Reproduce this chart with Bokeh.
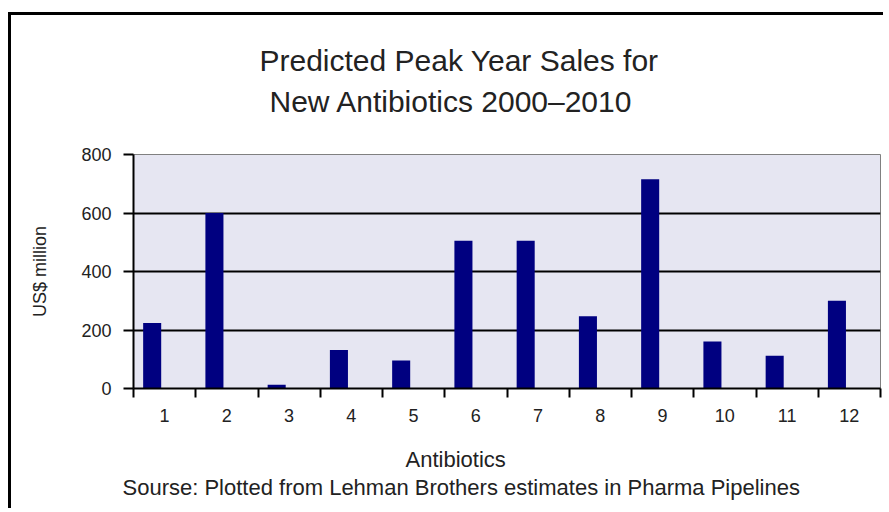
from bokeh.plotting import figure
from bokeh.models import ColumnDataSource, FixedTicker, Range1d, Title
from bokeh.transform import dodge
from bokeh.embed import file_html
from bokeh.resources import INLINE

# ---- data ----
antibiotics = [1, 2, 3, 4, 5, 6, 7, 8, 9, 10, 11, 12]
sales = [224, 600, 13, 132, 96, 505, 505, 247, 715, 161, 112, 300]
y_ticks = [0, 200, 400, 600, 800]
title_lines = ["Predicted Peak Year Sales for", "New Antibiotics 2000\u20132010"]
x_title = "Antibiotics"
y_title = "US$ million"
source_note = "Sourse: Plotted from Lehman Brothers estimates in Pharma Pipelines"

FONT = "Liberation Sans"
TXT = "#222222"

# ---- layout (canvas pixels) ----
W, H = 875, 496
FL, FT, FR, FB = 122, 139, 869, 373       # frame edges in canvas px

src = ColumnDataSource(dict(idx=antibiotics, sales=sales))

p = figure(width=W, height=H, output_backend="svg", toolbar_location=None,
           x_range=Range1d(0.5, 12.5), y_range=Range1d(0, 800),
           min_border_left=FL, min_border_top=FT, min_border_right=W - FR,
           min_border_bottom=H - FB)
p.styles = {"margin-left": "8px", "margin-top": "12px",
            "border-left": "3px solid black", "border-top": "3px solid black"}
p.background_fill_color = "#E6E6F2"
p.border_fill_color = "white"
p.outline_line_color = "#808080"
p.outline_line_width = 1

p.vbar(x=dodge("idx", -0.2, range=p.x_range), top="sales", width=0.29,
       bottom=0, source=src, fill_color="#000080", line_color=None)

# x axis: labels at category centres, ticks at category boundaries
p.xaxis.ticker = FixedTicker(ticks=antibiotics,
                             minor_ticks=[i + 0.5 for i in range(0, 13)])
p.xaxis.major_tick_line_color = None
p.xaxis.major_tick_out = 9
p.xaxis.major_tick_in = 0
p.xaxis.minor_tick_line_color = "black"
p.xaxis.minor_tick_line_width = 2
p.xaxis.minor_tick_out = 9
p.xaxis.minor_tick_in = 0
p.xaxis.axis_line_color = "black"
p.xaxis.axis_line_width = 2
p.xaxis.major_label_standoff = 11
p.xaxis.major_label_text_font = FONT
p.xaxis.major_label_text_font_size = "18px"
p.xaxis.major_label_text_color = TXT

p.yaxis.ticker = FixedTicker(ticks=y_ticks)
p.yaxis.minor_tick_line_color = None
p.yaxis.major_tick_line_color = "black"
p.yaxis.major_tick_line_width = 2
p.yaxis.major_tick_out = 10
p.yaxis.major_tick_in = 0
p.yaxis.axis_line_color = "black"
p.yaxis.axis_line_width = 2
p.yaxis.major_label_standoff = 12
p.yaxis.major_label_text_font = FONT
p.yaxis.major_label_text_font_size = "18px"
p.yaxis.major_label_text_color = TXT
p.yaxis.axis_label = y_title
p.yaxis.axis_label_text_font = FONT
p.yaxis.axis_label_text_font_size = "18px"
p.yaxis.axis_label_text_font_style = "normal"
p.yaxis.axis_label_text_color = TXT
p.yaxis.axis_label_standoff = 28

p.xgrid.grid_line_color = None
p.ygrid.grid_line_color = "black"
p.ygrid.grid_line_width = 2

def title(txt, size, offset, standoff):
    return Title(text=txt, align="left", offset=offset, standoff=standoff,
                 text_font=FONT, text_font_size=size,
                 text_font_style="normal", text_color=TXT)

def spacer(gap):
    return Title(text=" ", standoff=gap, text_font_size="1px",
                 text_color="white")

# above: nearest to frame first
p.add_layout(spacer(30), "above")
p.add_layout(title(title_lines[1], "30px", 136, 8), "above")
p.add_layout(title(title_lines[0], "30px", 126, 4), "above")

# below: axis first, then these
p.add_layout(spacer(16), "below")
p.add_layout(title(x_title, "22px", 272, 2), "below")
p.add_layout(title(source_note, "22px", -11, 0), "below")

open("out.html", "w").write(file_html(p, INLINE))
